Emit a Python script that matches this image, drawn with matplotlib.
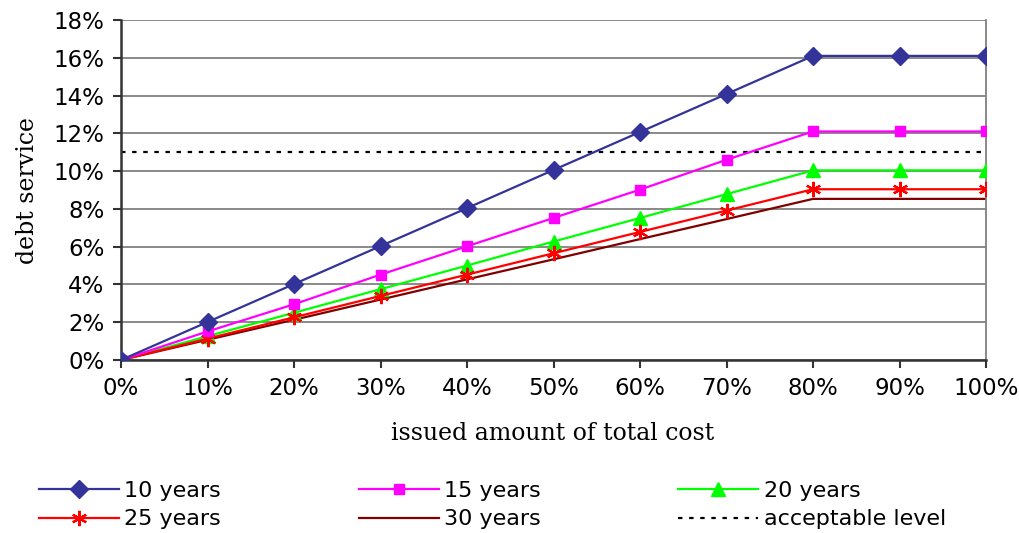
import matplotlib
matplotlib.use("Agg")
import matplotlib.pyplot as plt
from matplotlib.ticker import FuncFormatter

# issued share of total cost (x axis categories)
issued = ["0%", "10%", "20%", "30%", "40%", "50%", "60%", "70%", "80%", "90%", "100%"]

# debt service in percent
years_10 = [0, 2.01, 4.02, 6.03, 8.04, 10.06, 12.07, 14.08, 16.1, 16.1, 16.1]
years_15 = [0, 1.51, 2.95, 4.52, 6.02, 7.52, 9.02, 10.6, 12.1, 12.1, 12.1]
years_20 = [0, 1.26, 2.5, 3.75, 5.0, 6.27, 7.52, 8.78, 10.04, 10.04, 10.04]
years_25 = [0, 1.13, 2.26, 3.39, 4.52, 5.65, 6.78, 7.91, 9.04, 9.04, 9.04]
years_30 = [0, 1.07, 2.13, 3.2, 4.27, 5.33, 6.4, 7.46, 8.53, 8.53, 8.53]
acceptable = 11.0

fig = plt.figure(figsize=(10.19, 5.33), dpi=100)
ax = fig.add_axes([121/1019, 1 - 360/533, (986-121)/1019, (360-20)/533])

x = list(range(len(issued)))
l10, = ax.plot(x, years_10, color="#333399", lw=1.6, marker="D", ms=9, label="10 years", zorder=5)
l15, = ax.plot(x, years_15, color="#FF00FF", lw=1.6, marker="s", ms=7.5, label="15 years", zorder=4)
l20, = ax.plot(x, years_20, color="#00FF00", lw=1.6, marker="^", ms=10, label="20 years", zorder=3)
l25, = ax.plot(x, years_25, color="#FF0000", lw=1.6, marker=(6, 2, 0), ms=11, mew=1.6,
               label="25 years", zorder=3)
l30, = ax.plot(x, years_30, color="#800000", lw=1.6, label="30 years", zorder=2)
lacc, = ax.plot([x[0], x[-1]], [acceptable, acceptable], color="black", lw=1.6,
                ls=(0, (2, 3)), label="acceptable level", zorder=2)

ax.set_xlim(0, 10)
ax.set_ylim(0, 18)
ax.set_xticks(x)
ax.set_xticklabels(issued)
ax.set_yticks(range(0, 19, 2))
ax.yaxis.set_major_formatter(FuncFormatter(lambda v, p: "%d%%" % v))
ax.grid(axis="y", color="#808080", lw=1.3)
ax.set_axisbelow(True)

for s in ["left", "bottom"]:
    ax.spines[s].set_color("#333333")
    ax.spines[s].set_linewidth(1.8)
ax.spines["right"].set_color("#808080")
ax.spines["right"].set_linewidth(1.3)
ax.spines["top"].set_visible(False)
ax.tick_params(axis="both", direction="out", length=6, width=1.5, color="#333333",
               labelsize=16.5, pad=6)
for lab in ax.get_xticklabels() + ax.get_yticklabels():
    lab.set_family("DejaVu Sans")

fig.text(553/1019, 1 - 433/533, "issued amount of total cost", family="DejaVu Serif",
         fontsize=17, ha="center", va="center")
fig.text(28/1019, 1 - 190/533, "debt service", family="DejaVu Serif",
         fontsize=17, ha="center", va="center", rotation=90)

# legend is filled row by row in the reference
handles = [l10, l25, l15, l30, l20, lacc]
leg = fig.legend(handles, [h.get_label() for h in handles], loc="upper left", ncol=3,
                 mode="expand", bbox_to_anchor=(30/1019, 1 - 472/533, (955-30)/1019, 0),
                 frameon=False, handlelength=3.6, handletextpad=0.25,
                 labelspacing=0.38, borderaxespad=0,
                 prop={"family": "DejaVu Sans", "size": 16})

fig.savefig("out.png", dpi=100)
